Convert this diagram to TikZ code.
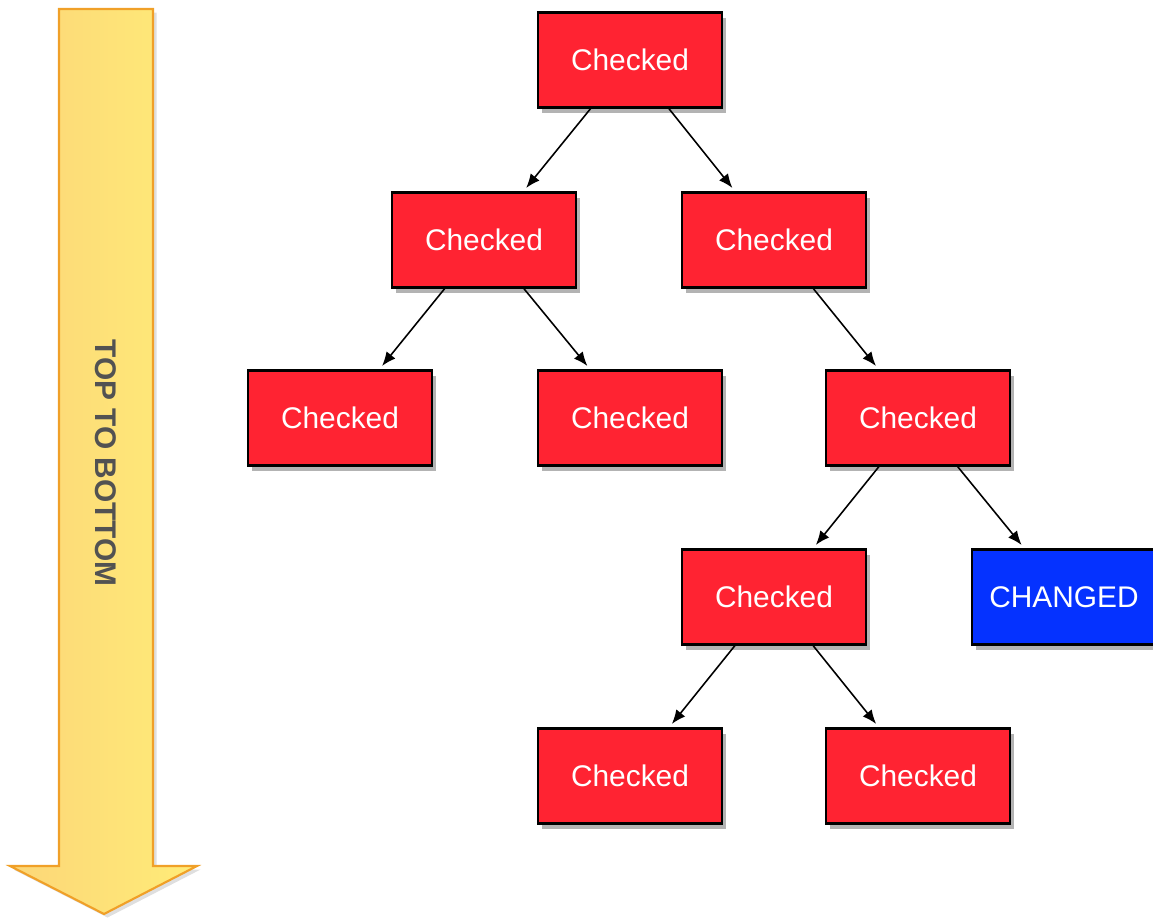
\documentclass[tikz,border=0pt]{standalone}
\usepackage{fontspec}
\setmainfont{Liberation Sans}
\usetikzlibrary{arrows}
\usetikzlibrary{arrows.meta}
\usetikzlibrary{shadows}
\definecolor{chkred}{RGB}{255,35,50}
\definecolor{chgblue}{RGB}{5,50,255}
\definecolor{arrorange}{RGB}{240,160,40}
\definecolor{arrleft}{RGB}{252,214,120}
\definecolor{arrright}{RGB}{255,236,120}
\tikzset{
  chkbox/.style={draw=black, line width=1.3pt, fill=chkred, text=white,
    minimum width=3.68cm, minimum height=1.9cm, inner sep=0pt,
    font=\fontsize{17}{20}\selectfont,
    drop shadow={opacity=0.6, shadow xshift=2pt, shadow yshift=-3pt}},
  chgbox/.style={chkbox, fill=chgblue},
  treearrow/.style={arrows={-Latex[length=8pt,width=6.5pt]}, line width=0.9pt, shorten >=2.5pt}
}
\begin{document}
\begin{tikzpicture}[x=0.02cm,y=-0.02cm]
\useasboundingbox (0,0) rectangle (1153,917);
% the big arrow on the left
\shade[left color=arrleft, right color=arrright, draw=arrorange, line width=1.2pt,
  drop shadow={opacity=0.25, shadow xshift=2pt, shadow yshift=-2pt}]
  (59,9) -- (153,9) -- (153,866) -- (197,866) -- (104,914) -- (10,866) -- (59,866) -- cycle;
\node[rotate=-90, text=black!68, font=\fontsize{17}{20}\selectfont\bfseries] (dir) at (106,463) {TOP TO BOTTOM};
% the tree
\node[chkbox] (root) at (630,60) {Checked};
\node[chkbox] (l) at (484,240) {Checked};
\node[chkbox] (r) at (774,240) {Checked};
\node[chkbox] (ll) at (340,418) {Checked};
\node[chkbox] (lr) at (630,418) {Checked};
\node[chkbox] (rr) at (918,418) {Checked};
\node[chkbox] (rrl) at (774,597) {Checked};
\node[chgbox] (rrr) at (1064,597) {CHANGED};
\node[chkbox] (rrll) at (630,776) {Checked};
\node[chkbox] (rrlr) at (918,776) {Checked};
\draw[treearrow] (root) -- (l);
\draw[treearrow] (root) -- (r);
\draw[treearrow] (l) -- (ll);
\draw[treearrow] (l) -- (lr);
\draw[treearrow] (r) -- (rr);
\draw[treearrow] (rr) -- (rrl);
\draw[treearrow] (rr) -- (rrr);
\draw[treearrow] (rrl) -- (rrll);
\draw[treearrow] (rrl) -- (rrlr);
\end{tikzpicture}
\end{document}
